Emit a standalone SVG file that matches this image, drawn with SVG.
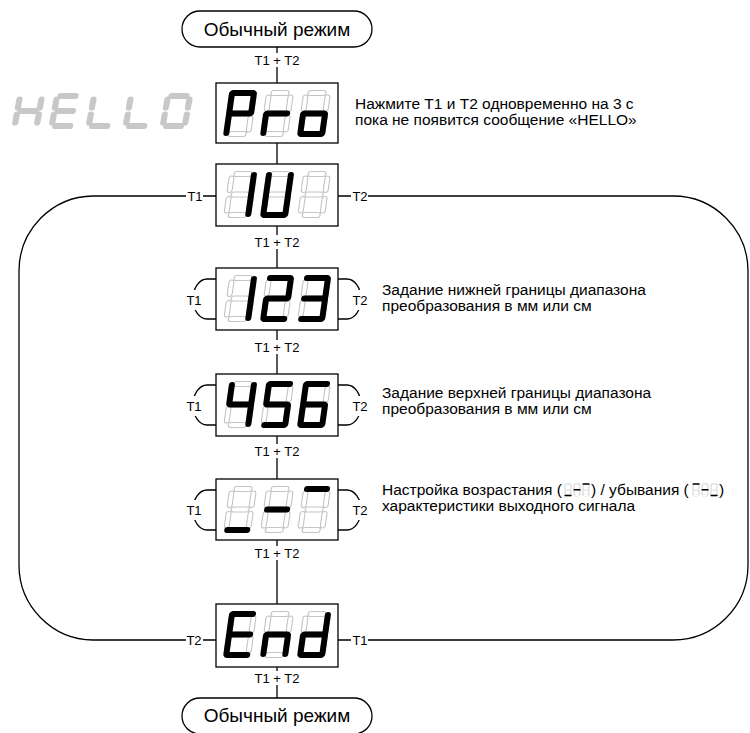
<svg xmlns="http://www.w3.org/2000/svg" width="750" height="733" viewBox="0 0 750 733">
<style>
.box{fill:#fff;stroke:#000;stroke-width:1.3}
.pill{fill:#fff;stroke:#000;stroke-width:1.3}
.ln{fill:none;stroke:#000;stroke-width:1.3}
.offo{fill:none;stroke:#c4c4c4;stroke-width:6;stroke-linecap:round}
.offi{fill:none;stroke:#fff;stroke-width:3.8;stroke-linecap:round}
.on{fill:none;stroke:#000;stroke-width:6;stroke-linecap:round}
.hl{fill:none;stroke:#c8c8c8;stroke-width:6.2;stroke-linecap:round}
.t{font-family:"Liberation Sans",Arial,sans-serif;fill:#000}
.lbl{font-size:13px;text-anchor:middle}
.big{font-size:19px;text-anchor:middle}
.desc{font-size:15.5px}
.bg{fill:#fff}
</style>
<defs>
<path id="off" d="M4.5,0H17.5M22,4.5V16M22,25V36.5M4.5,41H17.5M0,25V36.5M0,4.5V16M4.5,20.5H17.5"/>
<g id="d8"><use href="#off" class="offo"/><use href="#off" class="offi"/></g>
<path id="sa" d="M1,0H21"/>
<path id="sb" d="M22,1V19.5"/>
<path id="sc" d="M22,21.5V40"/>
<path id="sd" d="M1,41H21"/>
<path id="se" d="M0,21.5V40"/>
<path id="sf" d="M0,1V19.5"/>
<path id="sg" d="M1,20.5H21"/>
<path id="ha" d="M3.5,0H18.5"/>
<path id="hb" d="M22,3.5V11.5"/>
<path id="hc" d="M22,18.5V26.5"/>
<path id="hd" d="M3.5,30H18.5"/>
<path id="he" d="M0,18.5V26.5"/>
<path id="hf" d="M0,3.5V11.5"/>
<path id="hg" d="M3.5,15H18.5"/>
</defs>
<rect width="750" height="733" fill="#fff"/>

<g id="hello" class="hl">
<g transform="translate(20,96) skewX(-10)"><use href="#hb"/><use href="#hc"/><use href="#he"/><use href="#hf"/><use href="#hg"/></g>
<g transform="translate(57,96) skewX(-10)"><use href="#ha"/><use href="#hd"/><use href="#he"/><use href="#hf"/><use href="#hg"/></g>
<g transform="translate(94,96) skewX(-10)"><use href="#hd"/><use href="#he"/><use href="#hf"/></g>
<g transform="translate(131,96) skewX(-10)"><use href="#hd"/><use href="#he"/><use href="#hf"/></g>
<g transform="translate(168,96) skewX(-10)"><use href="#ha"/><use href="#hb"/><use href="#hc"/><use href="#hd"/><use href="#he"/><use href="#hf"/></g>
</g>

<g id="connectors">
<path class="ln" d="M277,47V698"/>
<path class="ln" d="M216,196H93A75,75 0 0 0 19,271V565A75,75 0 0 0 93,640H216"/>
<path class="ln" d="M338,196H673A75,75 0 0 1 748,271V565A75,75 0 0 1 673,640H338"/>
<path class="ln" d="M216,279H207A14,20 0 0 0 207,319H216M338,279H347A14,20 0 0 1 347,319H338"/>
<path class="ln" d="M216,385H207A14,20 0 0 0 207,425H216M338,385H347A14,20 0 0 1 347,425H338"/>
<path class="ln" d="M216,490H207A14,20 0 0 0 207,530H216M338,490H347A14,20 0 0 1 347,530H338"/>
<g class="bg">
<rect x="252" y="53" width="50" height="14"/>
<rect x="252" y="235" width="50" height="14"/>
<rect x="252" y="340" width="50" height="14"/>
<rect x="252" y="444" width="50" height="14"/>
<rect x="252" y="546" width="50" height="14"/>
<rect x="252" y="671" width="50" height="14"/>
<rect x="186" y="189" width="17" height="14"/>
<rect x="351" y="189" width="17" height="14"/>
<rect x="186" y="633" width="17" height="14"/>
<rect x="351" y="633" width="17" height="14"/>
<rect x="185" y="290" width="18" height="20"/>
<rect x="351" y="290" width="18" height="20"/>
<rect x="185" y="396" width="18" height="20"/>
<rect x="351" y="396" width="18" height="20"/>
<rect x="185" y="500" width="18" height="20"/>
<rect x="351" y="500" width="18" height="20"/>
</g>
<g class="t lbl">
<text x="277" y="64.5">T1 + T2</text>
<text x="277" y="246.5">T1 + T2</text>
<text x="277" y="351.5">T1 + T2</text>
<text x="277" y="455.5">T1 + T2</text>
<text x="277" y="557.5">T1 + T2</text>
<text x="277" y="682.5">T1 + T2</text>
<text x="195" y="200.5">T1</text>
<text x="360" y="200.5">T2</text>
<text x="194" y="644.5">T2</text>
<text x="360" y="644.5">T1</text>
<text x="194" y="304.5">T1</text>
<text x="360" y="304.5">T2</text>
<text x="194" y="410.5">T1</text>
<text x="360" y="410.5">T2</text>
<text x="194" y="514.5">T1</text>
<text x="360" y="514.5">T2</text>
</g>
</g>

<g id="start">
<rect class="pill" x="182" y="11" width="190" height="36" rx="18"/>
<text class="t big" x="277" y="35.5">Обычный режим</text>
</g>

<g id="pro">
<rect class="box" x="216" y="83" width="122" height="60"/>
<g transform="translate(232,93) skewX(-8)"><use href="#d8"/><g class="on"><use href="#sa"/><use href="#sb"/><use href="#se"/><use href="#sf"/><use href="#sg"/></g></g>
<g transform="translate(269,93) skewX(-8)"><use href="#d8"/><g class="on"><use href="#se"/><use href="#sg"/></g></g>
<g transform="translate(306,93) skewX(-8)"><use href="#d8"/><g class="on"><use href="#sc"/><use href="#sd"/><use href="#se"/><use href="#sg"/></g></g>
<text class="t desc" x="355" y="109">Нажмите T1 и T2 одновременно на 3 с</text>
<text class="t desc" x="355" y="125">пока не появится сообщение «HELLO»</text>
</g>

<g id="iu">
<rect class="box" x="216" y="164" width="122" height="62"/>
<g transform="translate(232,174) skewX(-8)"><use href="#d8"/><g class="on"><use href="#sb"/><use href="#sc"/></g></g>
<g transform="translate(269,174) skewX(-8)"><use href="#d8"/><g class="on"><use href="#sb"/><use href="#sc"/><use href="#sd"/><use href="#se"/><use href="#sf"/></g></g>
<g transform="translate(306,174) skewX(-8)"><use href="#d8"/></g>
</g>

<g id="low">
<rect class="box" x="216" y="268" width="122" height="62"/>
<g transform="translate(232,278) skewX(-8)"><use href="#d8"/><g class="on"><use href="#sb"/><use href="#sc"/></g></g>
<g transform="translate(269,278) skewX(-8)"><use href="#d8"/><g class="on"><use href="#sa"/><use href="#sb"/><use href="#sg"/><use href="#se"/><use href="#sd"/></g></g>
<g transform="translate(306,278) skewX(-8)"><use href="#d8"/><g class="on"><use href="#sa"/><use href="#sb"/><use href="#sg"/><use href="#sc"/><use href="#sd"/></g></g>
<text class="t desc" x="382" y="295">Задание нижней границы диапазона</text>
<text class="t desc" x="382" y="311">преобразования в мм или см</text>
</g>

<g id="high">
<rect class="box" x="216" y="374" width="122" height="62"/>
<g transform="translate(232,384) skewX(-8)"><use href="#d8"/><g class="on"><use href="#sf"/><use href="#sg"/><use href="#sb"/><use href="#sc"/></g></g>
<g transform="translate(269,384) skewX(-8)"><use href="#d8"/><g class="on"><use href="#sa"/><use href="#sf"/><use href="#sg"/><use href="#sc"/><use href="#sd"/></g></g>
<g transform="translate(306,384) skewX(-8)"><use href="#d8"/><g class="on"><use href="#sa"/><use href="#sf"/><use href="#sg"/><use href="#se"/><use href="#sc"/><use href="#sd"/></g></g>
<text class="t desc" x="382" y="398">Задание верхней границы диапазона</text>
<text class="t desc" x="382" y="414">преобразования в мм или см</text>
</g>

<g id="slope">
<rect class="box" x="216" y="479" width="122" height="61"/>
<g transform="translate(232,489) skewX(-8)"><use href="#d8"/><g class="on"><use href="#sd"/></g></g>
<g transform="translate(269,489) skewX(-8)"><use href="#d8"/><g class="on"><use href="#sg"/></g></g>
<g transform="translate(306,489) skewX(-8)"><use href="#d8"/><g class="on"><use href="#sa"/></g></g>
<text class="t desc" x="382" y="495">Настройка возрастания (</text>
<g transform="translate(565,484) scale(0.28)"><use href="#d8"/><g class="on"><use href="#sd"/></g></g>
<g transform="translate(574,484) scale(0.28)"><use href="#d8"/><g class="on"><use href="#sg"/></g></g>
<g transform="translate(583,484) scale(0.28)"><use href="#d8"/><g class="on"><use href="#sa"/></g></g>
<text class="t desc" x="591" y="495">) / убывания (</text>
<g transform="translate(693,484) scale(0.28)"><use href="#d8"/><g class="on"><use href="#sa"/></g></g>
<g transform="translate(702,484) scale(0.28)"><use href="#d8"/><g class="on"><use href="#sg"/></g></g>
<g transform="translate(711,484) scale(0.28)"><use href="#d8"/><g class="on"><use href="#sd"/></g></g>
<text class="t desc" x="719" y="495">)</text>
<text class="t desc" x="382" y="511">характеристики выходного сигнала</text>
</g>

<g id="end">
<rect class="box" x="216" y="604" width="122" height="63"/>
<g transform="translate(232,614) skewX(-8)"><use href="#d8"/><g class="on"><use href="#sa"/><use href="#sf"/><use href="#sg"/><use href="#se"/><use href="#sd"/></g></g>
<g transform="translate(269,614) skewX(-8)"><use href="#d8"/><g class="on"><use href="#se"/><use href="#sg"/><use href="#sc"/></g></g>
<g transform="translate(306,614) skewX(-8)"><use href="#d8"/><g class="on"><use href="#sb"/><use href="#sc"/><use href="#sd"/><use href="#se"/><use href="#sg"/></g></g>
</g>

<g id="finish">
<rect class="pill" x="182" y="698" width="190" height="36" rx="18"/>
<text class="t big" x="277" y="722">Обычный режим</text>
</g>
</svg>
